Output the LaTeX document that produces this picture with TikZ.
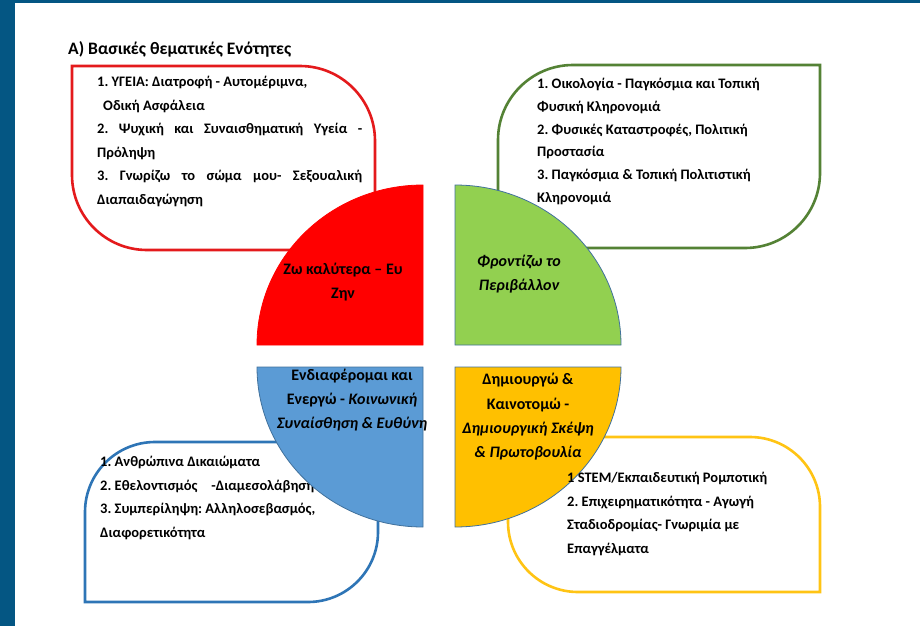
\documentclass[tikz,border=0pt]{standalone}
\usepackage{fontspec}
\setmainfont{Carlito}
\frenchspacing
\definecolor{frameblue}{RGB}{4,86,131}
\definecolor{zwred}{RGB}{255,0,0}
\definecolor{zwline}{RGB}{228,26,28}
\definecolor{envgreen}{RGB}{146,208,80}
\definecolor{envline}{RGB}{84,130,53}
\definecolor{socblue}{RGB}{91,155,213}
\definecolor{socline}{RGB}{46,117,182}
\definecolor{innoyellow}{RGB}{255,192,0}
\definecolor{innoline}{RGB}{255,196,20}
\definecolor{circline}{RGB}{65,113,156}

\begin{document}
\begin{tikzpicture}[x=1pt,y=-1pt,
    leafbox/.style={line width=2.6pt, fill=white},
    quarter/.style={draw=circline, line width=0.8pt},
    boxtext/.style={anchor=north west, inner sep=0pt, align=left,
      font=\fontsize{14.5}{23.5}\selectfont\bfseries},
    quartertext/.style={inner sep=0pt, align=center,
      font=\fontsize{16}{24.3}\selectfont\bfseries}]
  \useasboundingbox (0,0) rectangle (920,626);
  \fill[frameblue] (0,0) rectangle (920,626);
  \fill[white] (15,3) rectangle (920,626);

  % title
  \node[anchor=base west, inner sep=0pt, font=\fontsize{17.5}{20}\selectfont\bfseries]
    (title) at (68,55) {Α) Βασικές θεματικές Ενότητες};

  % the four boxes
  \draw[leafbox, draw=zwline] (72,66) -- (300,66)
    arc[start angle=90, end angle=0, radius=75pt] -- (375,250) -- (147,250)
    arc[start angle=270, end angle=180, radius=75pt] -- cycle;
  \draw[leafbox, draw=envline] (498,248) -- (498,140)
    arc[start angle=180, end angle=90, radius=75pt] -- (820,65) -- (820,173)
    arc[start angle=0, end angle=-90, radius=75pt] -- cycle;
  \draw[leafbox, draw=socline] (85,602) -- (85,512)
    arc[start angle=180, end angle=90, radius=70pt] -- (378,442) -- (378,532)
    arc[start angle=0, end angle=-90, radius=70pt] -- cycle;
  \draw[leafbox, draw=innoline] (820,592) -- (578,592)
    arc[start angle=270, end angle=180, radius=70pt] -- (508,437) -- (750,437)
    arc[start angle=90, end angle=0, radius=70pt] -- cycle;

  \node[boxtext] (health) at (97,76) {1. ΥΓΕΙΑ: Διατροφή - Αυτομέριμνα,\\
    \hspace*{6pt}Οδική Ασφάλεια\\
    \makebox[265pt][s]{2. Ψυχική και Συναισθηματική Υγεία -}\\
    Πρόληψη\\
    \makebox[265pt][s]{3. Γνωρίζω το σώμα μου- Σεξουαλική}\\
    Διαπαιδαγώγηση};
  \node[boxtext] (social) at (100,456) {1. Ανθρώπινα Δικαιώματα\\
    2. Εθελοντισμός\hspace{14pt}-Διαμεσολάβηση\\
    3. Συμπερίληψη: Αλληλοσεβασμός,\\
    Διαφορετικότητα};

  % the four quarters
  \draw[quarter, draw=zwred, fill=zwred] (423,345) -- (257,345)
    arc[start angle=180, end angle=90, x radius=166pt, y radius=160pt] -- cycle;
  \draw[quarter, fill=envgreen] (455,345) -- (455,185)
    arc[start angle=90, end angle=0, x radius=166pt, y radius=160pt] -- cycle;
  \draw[quarter, fill=socblue] (423,367) -- (257,367)
    arc[start angle=180, end angle=270, x radius=166pt, y radius=160pt] -- cycle;
  \draw[quarter, fill=innoyellow] (455,367) -- (621,367)
    arc[start angle=0, end angle=-90, x radius=166pt, y radius=160pt] -- cycle;

  \node[boxtext, font=\fontsize{14.5}{22.8}\selectfont\bfseries] (nature) at (537,78)
    {1. Οικολογία - Παγκόσμια και Τοπική\\
    Φυσική Κληρονομιά\\
    2. Φυσικές Καταστροφές, Πολιτική\\
    Προστασία\\
    3. Παγκόσμια \& Τοπική Πολιτιστική\\
    Κληρονομιά};
  \node[boxtext] (create) at (567,472) {1 STEM/Εκπαιδευτική Ρομποτική\\
    2. Επιχειρηματικότητα - Αγωγή\\
    Σταδιοδρομίας- Γνωριμία με\\
    Επαγγέλματα};

  \node[quartertext] (live) at (343,282) {Ζω καλύτερα – Ευ\\Ζην};
  \node[quartertext] (care) at (519,274) {\itshape Φροντίζω το\\\itshape Περιβάλλον};
  \node[quartertext] (act) at (352,400) {Ενδιαφέρομαι και\\
    Ενεργώ - \textit{Κοινωνική}\\\textit{Συναίσθηση \& Ευθύνη}};
  \node[quartertext] (innovate) at (528,417) {Δημιουργώ \&\\Καινοτομώ -\\
    \textit{Δημιουργική Σκέψη}\\\textit{\& Πρωτοβουλία}};
\end{tikzpicture}
\end{document}
